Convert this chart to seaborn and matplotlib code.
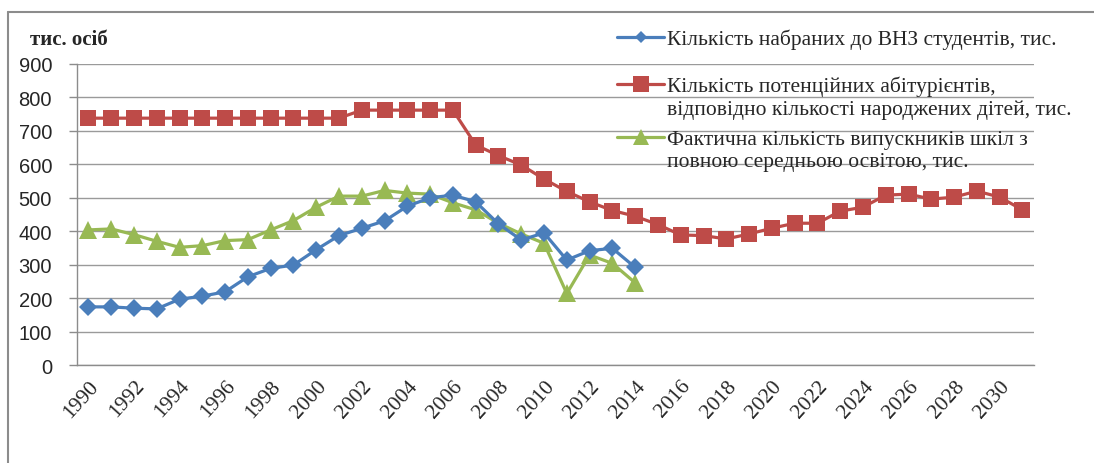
import numpy as np
import pandas as pd
import matplotlib.pyplot as plt
import matplotlib.lines as mlines
import seaborn as sns

years = list(range(1990, 2032))

students = [174, 174, 170, 168, 197, 206, 219, 264, 289, 299, 345, 387, 409, 431,
            475, 500, 508, 488, 422, 374, 395, 314, 342, 349, 292]
potential = [738, 738, 738, 738, 738, 738, 738, 738, 738, 738, 738, 738, 762, 762,
             762, 762, 762, 658, 626, 598, 556, 519, 488, 462, 445, 420, 389, 387,
             377, 392, 409, 424, 424, 460, 472, 508, 511, 496, 502, 520, 502, 464]
graduates = [404, 407, 390, 370, 352, 357, 372, 375, 404, 432, 472, 505, 505, 522,
             514, 511, 485, 464, 424, 392, 364, 214, 329, 304, 246]

lbl_students = ["Кількість набраних до ВНЗ студентів, тис."]
lbl_potential = ["Кількість потенційних абітурієнтів,",
                 "відповідно кількості народжених дітей, тис."]
lbl_graduates = ["Фактична кількість випускників шкіл з",
                 "повною середньою освітою, тис."]

df = pd.DataFrame({"year": years})
df["students"] = students + [np.nan] * (len(years) - len(students))
df["potential"] = potential
df["graduates"] = graduates + [np.nan] * (len(years) - len(graduates))

sns.set_style("white")
plt.rcParams["font.family"] = ["Liberation Serif", "DejaVu Serif"]

fig = plt.figure(figsize=(10.94, 4.64), dpi=100)
ax = fig.add_axes([0.0704, 0.211, 0.8746, 0.649])

c_blue = "#4a7ebb"
c_red = "#be4b48"
c_green = "#98b954"

sns.lineplot(data=df, x="year", y="potential", ax=ax, color=c_red, marker="s",
             markersize=11.5, markeredgewidth=0, linewidth=2.3, zorder=3)
sns.lineplot(data=df, x="year", y="graduates", ax=ax, color=c_green, marker="^",
             markersize=12.5, markeredgewidth=0, linewidth=2.3, zorder=4)
sns.lineplot(data=df, x="year", y="students", ax=ax, color=c_blue, marker="D",
             markersize=9.5, markeredgewidth=0, linewidth=2.3, zorder=5)

ax.set_xlim(1989.5, 2031.5)
ax.set_ylim(0, 900)
ax.set_yticks(range(0, 901, 100))
ax.set_yticklabels([str(v) for v in range(0, 901, 100)],
                   fontsize=14.5, family=["Liberation Sans"])
ax.set_xticks(years[::2])
ax.set_xticklabels([str(y) for y in years[::2]], rotation=48, ha="right",
                   rotation_mode="anchor", fontsize=15.5)
ax.set_xticks(np.arange(1989.5, 2032, 2), minor=True)
ax.tick_params(axis="x", which="major", length=0, pad=8)
ax.tick_params(axis="x", which="minor", length=6, color="#8c8c8c", width=1, direction="out")
ax.tick_params(axis="y", length=6, color="#8c8c8c", width=1, direction="out", left=True, pad=12)
ax.grid(axis="y", color="#9a9a9a", linewidth=1)
ax.set_axisbelow(True)
for s in ["top", "right"]:
    ax.spines[s].set_visible(False)
for s in ["left", "bottom"]:
    ax.spines[s].set_color("#8c8c8c")
    ax.spines[s].set_linewidth(1)
ax.set_xlabel("")
ax.set_ylabel("")

fig.text(30 / 1094, 1 - 40 / 464, "тис. осіб", fontsize=15, fontweight="bold", va="center")

# legend entries placed like the original; marker sits on the first line
entries = [
    (c_blue, "D", 6, lbl_students, 40),
    (c_red, "s", 11, lbl_potential, 87),
    (c_green, "^", 11, lbl_graduates, 140),
]
for col, mk, ms, lab, yc in entries:
    h = mlines.Line2D([], [], color=col, marker=mk, markersize=ms, markeredgewidth=0, linewidth=2.3)
    fig.legend(handles=[h], labels=[lab[0]], loc="center left",
               bbox_to_anchor=(617 / 1094, 1 - yc / 464), frameon=False,
               fontsize=15.5, handlelength=2.2, handletextpad=0.12,
               borderpad=0, borderaxespad=0)
    for i, line in enumerate(lab[1:], start=1):
        fig.text(667 / 1094, 1 - (yc + 23 * i) / 464, line, fontsize=15.5, va="center")

# outer frame (top and left only)
fig.add_artist(mlines.Line2D([8 / 1094, 1], [1 - 13 / 464, 1 - 13 / 464],
                             color="#8c8c8c", linewidth=1.5))
fig.add_artist(mlines.Line2D([8 / 1094, 8 / 1094], [0, 1 - 13 / 464],
                             color="#8c8c8c", linewidth=1.5))

fig.savefig("out.png", dpi=100)
